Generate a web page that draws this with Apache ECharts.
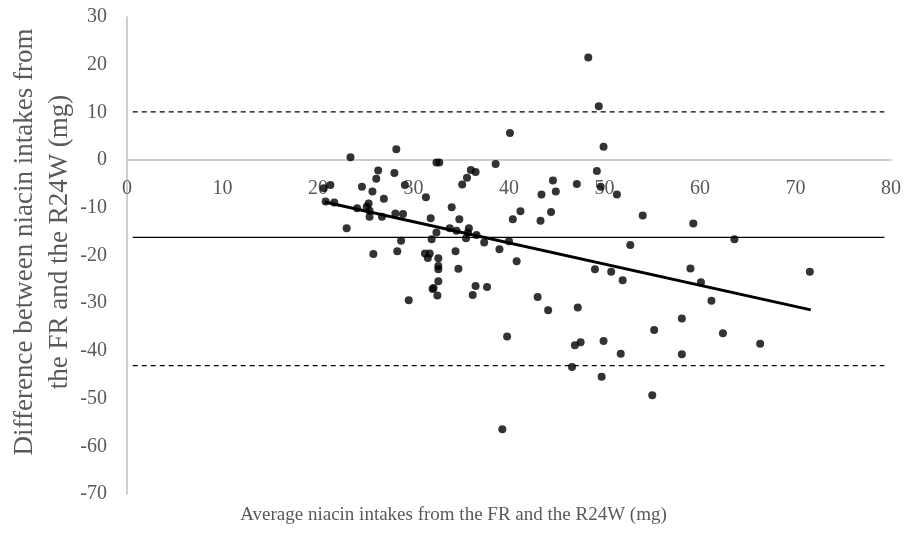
<!DOCTYPE html>
<html>
<head>
<meta charset="utf-8">
<script src="https://cdn.jsdelivr.net/npm/echarts@6/dist/echarts.min.js"></script>
<style>
  html, body { margin: 0; padding: 0; background: #fff; }
  #chart { width: 907px; height: 536px; }
</style>
</head>
<body>
<div id="chart"></div>
<script>
// x = average of FR and R24W (mg), y = difference (mg)
var points = [
  [23.4, 0.6], [28.2, 2.3], [32.4, -0.5], [32.7, -0.5], [38.6, -0.8],
  [20.6, -5.9], [21.3, -5.2], [24.6, -5.6], [26.3, -2.2], [26.1, -3.9],
  [25.7, -6.6], [28.0, -2.7], [29.1, -5.2], [31.3, -7.8], [35.1, -5.1],
  [35.6, -3.7], [36.0, -2.1], [36.5, -2.5], [20.8, -8.7], [21.7, -8.9],
  [24.1, -10.1], [25.3, -9.1], [25.1, -9.8], [25.4, -10.6], [25.4, -11.9],
  [26.7, -11.9], [26.9, -8.1], [28.1, -11.2], [28.9, -11.3], [23.0, -14.3],
  [31.8, -12.2], [34.0, -9.9], [34.8, -12.4], [32.4, -15.2], [33.8, -14.3],
  [34.5, -14.8], [35.8, -14.3], [35.5, -16.4], [35.7, -15.2], [36.6, -15.7],
  [37.4, -17.3], [39.0, -18.7], [31.9, -16.6], [28.7, -16.9], [28.3, -19.1],
  [25.8, -19.7], [31.2, -19.6], [31.5, -20.5], [31.7, -19.6], [32.6, -20.6],
  [34.4, -19.1], [32.6, -22.2], [32.6, -22.9], [34.7, -22.8], [32.6, -25.4],
  [32.0, -27.0], [32.1, -26.8], [32.5, -28.4], [36.5, -26.4], [37.7, -26.6],
  [36.2, -28.3], [29.5, -29.4],
  [48.3, 21.5], [49.4, 11.3], [40.1, 5.7], [49.9, 2.8], [49.2, -2.3],
  [44.6, -4.3], [47.1, -5.0], [44.9, -6.6], [43.4, -7.2], [49.6, -5.6],
  [51.3, -7.2],
  [41.2, -10.7], [40.4, -12.4], [43.3, -12.7], [44.4, -10.9], [54.0, -11.6],
  [59.3, -13.3], [40.0, -17.0], [40.8, -21.2], [52.7, -17.8], [49.0, -22.9],
  [50.7, -23.4], [51.9, -25.2], [59.0, -22.7], [60.1, -25.6], [61.2, -29.5],
  [43.0, -28.7], [44.1, -31.5], [47.2, -30.9], [39.8, -37.0], [46.9, -38.8],
  [47.5, -38.2], [49.9, -37.9], [51.7, -40.6], [55.2, -35.6], [58.1, -33.2],
  [58.1, -40.7], [62.4, -36.3], [46.6, -43.4], [49.7, -45.4], [55.0, -49.3],
  [39.3, -56.4],
  [63.6, -16.6], [71.5, -23.4], [66.3, -38.5]
];

// regression line end points
var trendLine = [[20.7, -8.8], [71.6, -31.4]];

// mean difference and limits of agreement
var limitX = [0.6, 79.3];
var meanDiff = -16.2;
var upperLimit = 10.1;
var lowerLimit = -43.1;

var xTicks = { min: 0, max: 80, interval: 10 };
var yTicks = { min: -70, max: 30, interval: 10 };

var chart = echarts.init(document.getElementById('chart'));

var labelFont = {
  color: '#595959',
  fontFamily: 'Liberation Serif',
  fontSize: 20
};

function hLine (y) {
  return limitX.map(function (x) { return [x, y] });
}

var option = {
  animation: false,
  grid: {
    left: 127,
    right: 16,
    top: 17,
    bottom: 42
  },
  xAxis: {
    type: 'value',
    min: xTicks.min,
    max: xTicks.max,
    interval: xTicks.interval,
    // the horizontal axis crosses at y = 0 (30 units below the top of 100)
    offset: -334,
    axisLine: { onZero: false, lineStyle: { color: '#bfbfbf', width: 1.5 } },
    axisTick: { show: false },
    splitLine: { show: false },
    axisLabel: Object.assign({ margin: 19 }, labelFont)
  },
  yAxis: {
    type: 'value',
    min: yTicks.min,
    max: yTicks.max,
    interval: yTicks.interval,
    axisLine: { show: true, onZero: false, lineStyle: { color: '#bfbfbf', width: 1.5 } },
    axisTick: { show: false },
    splitLine: { show: false },
    axisLabel: Object.assign({ margin: 20 }, labelFont)
  },
  graphic: [
    {
      type: 'text',
      left: 'center',
      top: 506,
      style: {
        text: 'Average niacin intakes from the FR and the R24W (mg)',
        fill: '#595959',
        font: '19px "Liberation Serif"'
      }
    },
    {
      type: 'text',
      x: 42,
      y: 242,
      rotation: Math.PI / 2,
      style: {
        text: 'Difference between niacin intakes from\nthe FR and the R24W (mg)',
        fill: '#595959',
        font: '27px "Liberation Serif"',
        lineHeight: 35,
        align: 'center',
        verticalAlign: 'middle'
      }
    }
  ],
  series: [
    {
      type: 'line',
      data: hLine(upperLimit),
      symbol: 'none',
      lineStyle: { color: '#000', width: 1.3, type: [5, 4] },
      z: 1
    },
    {
      type: 'line',
      data: hLine(meanDiff),
      symbol: 'none',
      lineStyle: { color: '#000', width: 1.3 },
      z: 1
    },
    {
      type: 'line',
      data: hLine(lowerLimit),
      symbol: 'none',
      lineStyle: { color: '#000', width: 1.3, type: [5, 4] },
      z: 1
    },
    {
      type: 'scatter',
      data: points,
      symbol: 'circle',
      symbolSize: 8,
      itemStyle: { color: '#000' },
      z: 3
    },
    {
      type: 'line',
      data: trendLine,
      symbol: 'none',
      lineStyle: { color: '#000', width: 3 },
      z: 4
    }
  ]
};

chart.setOption(option);
</script>
</body>
</html>
